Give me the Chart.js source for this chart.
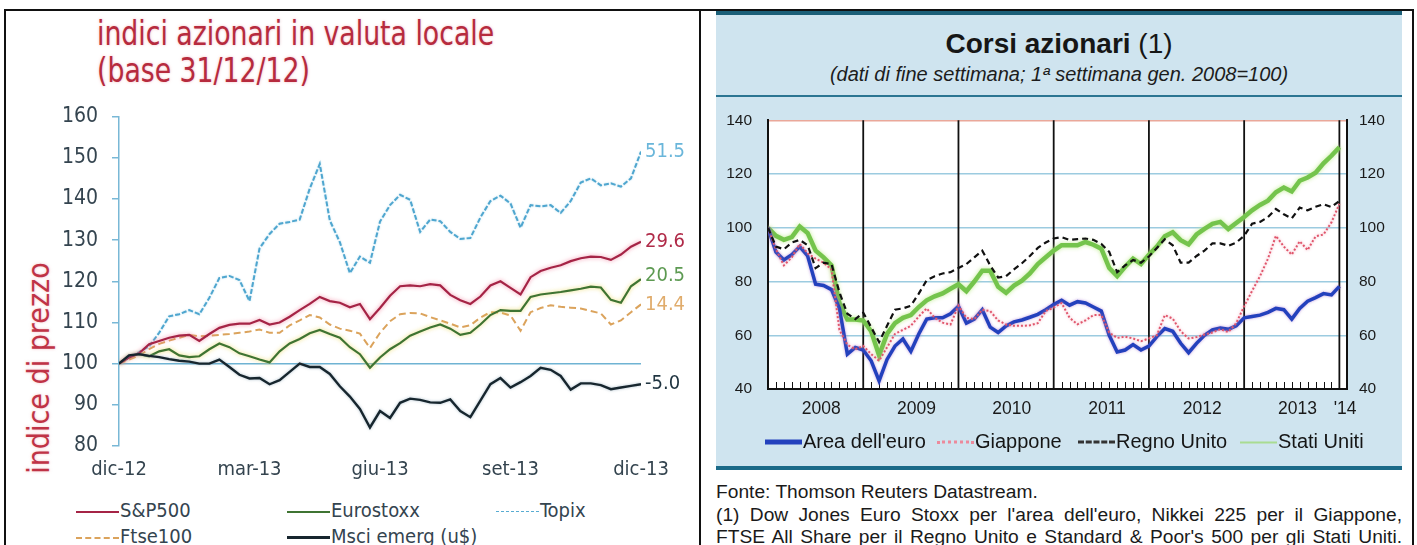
<!DOCTYPE html>
<html>
<head>
<meta charset="utf-8">
<script src="https://cdn.jsdelivr.net/npm/chart.js@4.4.1/dist/chart.umd.min.js"></script>
<style>
  html, body { margin: 0; padding: 0; background: #fff; }
  #page { position: relative; width: 1417px; height: 545px; overflow: hidden; background: #fff; }
  .abs { position: absolute; }
  .rule { position: absolute; background: #111; }
  .narrow { font-family: "Liberation Sans Narrow", "DejaVu Sans Condensed", "Roboto Condensed", "Open Sans", sans-serif; }
  .arial { font-family: "Liberation Sans", Arial, sans-serif; }
  #lTitle { left: 97px; top: 15px; color: #b62b3e; font-size: 33px; line-height: 37px; white-space: nowrap;
            transform: scaleX(0.9); transform-origin: 0 0;
            text-shadow: 0 0 3px rgba(235, 130, 140, .55); }
  #lYTitle { left: 38px; top: 368px; color: #bf3346; font-size: 30px; white-space: nowrap;
             transform: translate(-50%, -50%) rotate(-90deg); text-shadow: 0 0 3px rgba(235, 130, 140, .5); }
  .lleg { position: absolute; font-size: 20px; color: #34444f; white-space: nowrap; transform: translateY(-50%); }
  .sw { display: inline-block; width: 43px; height: 0; vertical-align: middle; margin-right: 1px; }
  #rBg { left: 716px; top: 15px; width: 686px; height: 453px; background: #cfe4ef; }
  #rTop { left: 716px; top: 11px; width: 686px; height: 4px; background: #1b5f78; }
  #rMid { left: 716px; top: 95px; width: 686px; height: 2px; background: #2b7592; }
  #rBot { left: 716px; top: 466px; width: 686px; height: 4px; background: #1b6a88; }
  #rTitle { left: 716px; width: 686px; top: 28px; text-align: center; font-size: 28px; color: #161616; }
  #rSub { left: 716px; width: 686px; top: 63px; text-align: center; font-size: 20px; font-style: italic; color: #1c1c1c; }
  .rleg { position: absolute; top: 441px; font-size: 20px; color: #151515; white-space: nowrap; transform: translateY(-50%); }
  .rsw { display: inline-block; width: 37px; height: 0; vertical-align: middle; margin-right: 1px; }
  .note { position: absolute; left: 716px; width: 686px; font-size: 19.2px; line-height: 22px; color: #1a1a1a; white-space: nowrap; }
  .just { text-align: justify; text-align-last: justify; }
</style>
</head>
<body>
<div id="page">
  <!-- frame -->
  <div class="rule" style="left:4px;top:9px;width:1410px;height:2px"></div>
  <div class="rule" style="left:4px;top:9px;width:2px;height:536px"></div>
  <div class="rule" style="left:699px;top:9px;width:2px;height:536px"></div>
  <div class="rule" style="left:1412px;top:9px;width:2px;height:536px"></div>

  <!-- left panel -->
  <div id="lTitle" class="abs narrow">indici azionari in valuta locale<br>(base 31/12/12)</div>
  <div id="lYTitle" class="abs narrow">indice di prezzo</div>
  <div class="abs" style="left:0;top:90px;width:700px;height:400px"><canvas id="left" width="700" height="400"></canvas></div>
  <div id="lLegend"></div>

  <!-- right panel -->
  <div id="rBg" class="abs"></div>
  <div id="rTop" class="abs"></div>
  <div id="rMid" class="abs"></div>
  <div id="rBot" class="abs"></div>
  <div id="rTitle" class="abs arial"><b>Corsi azionari</b> (1)</div>
  <div id="rSub" class="abs arial">(dati di fine settimana; 1ª settimana gen. 2008=100)</div>
  <div class="abs" style="left:700px;top:95px;width:717px;height:335px"><canvas id="right" width="717" height="335"></canvas></div>
  <div id="rLegend"></div>
  <div class="note arial" style="top:481px">Fonte: Thomson Reuters Datastream.</div>
  <div class="note arial just" style="top:504px">(1) Dow Jones Euro Stoxx per l'area dell'euro, Nikkei 225 per il Giappone,</div>
  <div class="note arial just" style="top:526px">FTSE All Share per il Regno Unito e Standard &amp; Poor's 500 per gli Stati Uniti.</div>
</div>

<script>
// ---- Left chart: weekly index levels, 31/12/12 = 100 ----
const leftTickLabels = ['dic-12', 'mar-13', 'giu-13', 'set-13', 'dic-13'];
const topix = [100,101.5,102.8,104.2,107.5,111.5,112,113,112,116,120.8,121.3,120.3,115.2,128,131.5,134,134.4,135,142.5,
  148.5,134.8,129.5,122,126,124.5,134.5,138.5,141,139.8,132,135,134.6,132,130.3,130.5,135.5,139.5,140.8,138.9,
  133,138.5,138.2,138.5,136.6,139.5,144,145,143.3,143.8,143,145,151.5];
const sp500 = [100,101.5,102.5,104.7,105.5,106.3,106.8,107,105.5,107.2,108.7,109.4,109.7,109.7,110.6,109.5,110,111.4,113,114.5,
  116.2,115.2,114.8,113.7,114.5,110.8,113.5,116.5,118.8,119,118.8,119.3,119,116.7,115.4,114.5,116.3,119,120,118.4,
  116.8,121,122.5,123.3,123.9,124.9,125.6,126,125.9,125.2,126.5,128.4,129.6];
const eurostoxx = [100,101.8,102.3,101.8,103,103.5,102,101.6,101.8,103.5,104.9,104,102.5,101.8,101,100.3,103,104.9,106,107.4,
  108.2,107.2,106.3,104,102.3,99,101.5,103.5,105,106.8,107.8,108.8,109.5,108.5,107,107.5,109.5,111.8,113,112.8,
  112.8,116.2,116.8,117.1,117.4,117.8,118.2,118.7,118.5,115.5,114.8,118.8,120.5];
const ftse100 = [100,101,102,103.5,104.8,105.6,106.3,107,106.6,106.8,107,107.2,107.5,107.8,108.3,107.5,107.5,109.3,110.5,111.8,
  111.2,109.5,108.5,108,107.3,103.8,107.5,110.3,112,112.3,112.2,111.3,110.5,109.7,108.8,109.3,111.2,112.5,112.4,111.7,
  108,112.5,113.5,114.2,113.8,113.6,113.4,112.8,112.2,109.5,110.5,112.5,114.4];
const msciEmerg = [100,102,102.3,101.9,101.6,101.1,100.7,100.5,100,100,101,99.2,97.3,96.4,96.5,95,96,98,100,99.2,
  99.2,97.5,94.5,92,89,84.5,88.5,86.8,90.5,91.5,91.2,90.6,90.5,91.3,88.5,87,91,95,96.5,94.2,
  95.5,97,99,98.5,97,93.7,95.2,95.2,94.8,93.8,94.2,94.6,95];

// ---- Right chart: month-end levels, 1st week Jan 2008 = 100 ----
const yearTickLabels = ['2008', '2009', '2010', '2011', '2012', '2013', "'14"];
const areaEuro = [100,91,88,90,93,89.5,79,78.5,77,70,53,55.5,54.5,50.5,43,51,56,58.6,54,60.5,
  66,66.5,66.5,68,70.8,64.5,66,69.5,63,61,63.5,65,65.7,66.7,67.8,69.5,71.4,73,71.2,72.5,
  72,70.5,69,60,53.8,54.5,56.5,54.5,56,59.5,62.5,61.5,57,53.5,57,60,62,62.7,62.2,63.5,
  66.5,67,67.5,68.5,70,69.5,66,70,72.7,74,75.5,75,78.2];
const giappone = [100,92,86,89,94,90.5,88.5,87,84.5,62,56.5,54.8,56,53,50.5,55.5,60.5,62,63.5,67,
  70,66.5,64.7,64,71,66.5,66,69.5,69,65.5,64,63.5,63.5,63.7,64.5,69,70.3,72,66.5,64.1,
  65.5,67.5,67.5,61,59,59.5,58.8,57.8,58.8,60,67.5,66.2,61.5,58.8,59.3,60.3,61,62.2,61.2,64.5,
  70.8,76.5,82,88.5,97,93,90,95,91.7,96.8,97.5,102,108.9];
const regnoUnito = [100,93,92,94.5,95.5,93.5,85,87,86.5,76,68,66,68.4,63,57.5,63.5,69.5,70,71,75.5,
  80.5,82,83,83.5,85,86.5,89,91.5,86,81.5,82,84.5,86.8,89.5,92.5,94.5,96,96.5,95.5,95.8,
  96,95.5,94,91,83.5,86,88,87,89.3,92.5,95.7,93.5,87,87,89.5,91.5,94.2,94.2,93.3,94.5,
  97,101.5,102.2,104,107,105,103.5,107.5,106.5,107.8,108.8,107.7,110];
const statiUniti = [100,97,95.5,96.5,100.5,98,91.5,89,86,72,65.9,65.9,65.5,61.5,52.5,60.5,64.5,66.5,67.5,70.5,
  73,74.5,75.6,77.3,79,76.4,80,84,84,78,75.8,78.5,80.3,83,86.5,89,91.5,93.5,93.5,93.5,
  94.7,93.7,92.2,85,82,85.5,88.5,86.5,90,93,96.8,98.3,95.4,93.8,97.5,99.6,101.5,102.2,99.5,101.8,
  104,106.5,108.5,110.1,113.2,115,113.5,117.5,118.7,120.5,124,126.8,130];

const NARROW = '"Liberation Sans Narrow", "DejaVu Sans Condensed", "Roboto Condensed", "Open Sans", sans-serif';
const ARIAL = '"Liberation Sans", Arial, sans-serif';

const weekly = arr => arr.map((v, i) => ({ x: i, y: v }));
const monthly = arr => arr.map((v, m) => ({ x: 2008 + m / 12, y: v }));

// soft halo behind selected lines
const glowPlugin = {
  id: 'glow',
  beforeDatasetDraw(chart, args) {
    const ds = chart.data.datasets[args.index];
    if (ds.glowColor) {
      chart.ctx.save();
      chart.ctx.shadowColor = ds.glowColor;
      chart.ctx.shadowBlur = ds.glowBlur || 4;
    }
  },
  afterDatasetDraw(chart, args) {
    if (chart.data.datasets[args.index].glowColor) chart.ctx.restore();
  }
};

// change since base, written at the end of each line
const endLabelPlugin = {
  id: 'endLabels',
  afterDatasetsDraw(chart) {
    const ctx = chart.ctx;
    chart.data.datasets.forEach((ds, i) => {
      if (!ds.endLabel) return;
      const meta = chart.getDatasetMeta(i);
      const pt = meta.data[meta.data.length - 1];
      const last = ds.data[ds.data.length - 1].y;
      ctx.save();
      ctx.font = '20px ' + NARROW;
      ctx.fillStyle = ds.labelColor;
      ctx.textAlign = 'left';
      ctx.textBaseline = 'middle';
      ctx.fillText((last - 100).toFixed(1), pt.x + 4, pt.y + (ds.labelDy || 0));
      ctx.restore();
    });
  }
};

new Chart(document.getElementById('left'), {
  type: 'line',
  data: {
    datasets: [
      { label: 'Msci emerg (u$)', data: weekly(msciEmerg), borderColor: '#17262e', borderWidth: 2.4,
        glowColor: 'rgba(120,150,170,.6)', glowBlur: 3, endLabel: true, labelColor: '#1f3440', order: 1 },
      { label: 'S&P500', data: weekly(sp500), borderColor: '#a52446', borderWidth: 2.2,
        glowColor: 'rgba(240,120,150,.8)', glowBlur: 4, endLabel: true, labelColor: '#b02a48', order: 2 },
      { label: 'Eurostoxx', data: weekly(eurostoxx), borderColor: '#3f7432', borderWidth: 2.2,
        glowColor: 'rgba(235,215,90,.85)', glowBlur: 4, endLabel: true, labelColor: '#5d9a52', labelDy: -3, order: 3 },
      { label: 'Ftse100', data: weekly(ftse100), borderColor: '#dba35c', borderWidth: 2, borderDash: [7, 4],
        endLabel: true, labelColor: '#e0ac6c', order: 4 },
      { label: 'Topix', data: weekly(topix), borderColor: '#4fa6cf', borderWidth: 2, borderDash: [5, 2],
        glowColor: 'rgba(150,205,230,.7)', glowBlur: 2, endLabel: true, labelColor: '#6ab6da', order: 5 },
      { label: 'base', data: [{ x: 0, y: 100 }, { x: sp500.length - 1, y: 100 }], borderColor: '#6fb3d3',
        borderWidth: 1.5, order: 6 }
    ]
  },
  options: {
    responsive: false,
    animation: false,
    events: [],
    layout: { padding: { left: 0, right: 59, top: 13, bottom: 0 } },
    elements: { point: { radius: 0 }, line: { tension: 0 } },
    plugins: { legend: { display: false }, tooltip: { enabled: false } },
    scales: {
      x: {
        type: 'linear', min: 0, max: sp500.length - 1,
        afterBuildTicks: s => { s.ticks = leftTickLabels.map((_, k) => ({ value: k * 13 })); },
        afterFit: s => { s.height = 44; },
        ticks: { callback: (v, k) => leftTickLabels[k], font: { family: NARROW, size: 20 }, color: '#34444f',
                 padding: 12, maxRotation: 0, autoSkip: false },
        grid: { display: false, drawTicks: false },
        border: { display: false }
      },
      y: {
        min: 80, max: 160,
        afterFit: s => { s.width = 119; },
        ticks: { stepSize: 10, font: { family: NARROW, size: 21 }, color: '#34444f', padding: 14 },
        grid: { drawOnChartArea: false, drawTicks: true, tickLength: 7, color: '#79b8d6', lineWidth: 1.5 },
        border: { display: true, color: '#79b8d6', width: 1.5 }
      }
    }
  },
  plugins: [glowPlugin, endLabelPlugin]
});

// white plot field, monthly ticks along the base and year separators
const fieldPlugin = {
  id: 'field',
  beforeDraw(chart) {
    const { ctx, chartArea: a } = chart;
    ctx.save();
    ctx.fillStyle = '#fff';
    ctx.fillRect(a.left, a.top, a.right - a.left, a.bottom - a.top);
    ctx.restore();
  },
  beforeDatasetsDraw(chart) {
    const { ctx, chartArea: a, scales: { x } } = chart;
    ctx.save();
    ctx.strokeStyle = '#111';
    ctx.lineWidth = 1;
    for (let m = 1; m < areaEuro.length; m++) {
      if (m % 12 === 0) continue;
      const px = Math.round(x.getPixelForValue(2008 + m / 12)) + 0.5;
      ctx.beginPath(); ctx.moveTo(px, a.bottom); ctx.lineTo(px, a.bottom - 7); ctx.stroke();
    }
    ctx.lineWidth = 1.8;
    for (let yr = 2009; yr <= 2014; yr++) {
      const px = x.getPixelForValue(yr);
      ctx.beginPath(); ctx.moveTo(px, a.top); ctx.lineTo(px, a.bottom); ctx.stroke();
    }
    ctx.restore();
  }
};

const yOpts = (pos, width, pad) => ({
  position: pos, min: 40, max: 140,
  afterFit: s => { s.width = width; },
  ticks: { stepSize: 20, font: { family: ARIAL, size: 15.5 }, color: '#1a1a1a', padding: pad },
  border: { display: true, color: '#111', width: 2 }
});

new Chart(document.getElementById('right'), {
  type: 'line',
  data: {
    datasets: [
      { label: 'Regno Unito', data: monthly(regnoUnito), borderColor: '#111', borderWidth: 2.2, borderDash: [6, 4], order: 0 },
      { label: 'Giappone', data: monthly(giappone), borderColor: '#e0566c', borderWidth: 2, borderDash: [2, 2],
        glowColor: 'rgba(240,150,170,.8)', glowBlur: 3, order: 1 },
      { label: "Area dell'euro", data: monthly(areaEuro), borderColor: '#2341bd', borderWidth: 3.5,
        glowColor: 'rgba(150,90,200,.6)', glowBlur: 3, order: 2 },
      { label: 'Stati Uniti', data: monthly(statiUniti), borderColor: '#74c44c', borderWidth: 4.5,
        glowColor: 'rgba(190,235,140,.9)', glowBlur: 4, order: 3 }
    ]
  },
  options: {
    responsive: false,
    animation: false,
    events: [],
    layout: { padding: { left: 0, right: 0, top: 22, bottom: 0 } },
    elements: { point: { radius: 0 }, line: { tension: 0 } },
    plugins: { legend: { display: false }, tooltip: { enabled: false } },
    scales: {
      x: {
        type: 'linear', min: 2008, max: 2014.08,
        afterBuildTicks: s => {
          s.ticks = yearTickLabels.map((_, k) => ({ value: k < 6 ? 2008 + k + 0.56 : 2014.06 }));
        },
        afterFit: s => { s.height = 41; },
        ticks: { callback: (v, k) => yearTickLabels[k], font: { family: ARIAL, size: 17.5 }, color: '#1a1a1a',
                 padding: 10, maxRotation: 0, autoSkip: false },
        grid: { display: false, drawTicks: false },
        border: { display: true, color: '#111', width: 2 }
      },
      y: Object.assign(yOpts('left', 68, 16), {
        grid: {
          drawTicks: false, lineWidth: 1.5,
          color: c => c.tick.value === 140 ? '#eaa89a' : (c.tick.value === 40 ? 'rgba(0,0,0,0)' : '#9ccbe0')
        }
      }),
      y2: Object.assign(yOpts('right', 70, 12), { grid: { display: false, drawTicks: false } })
    }
  },
  plugins: [fieldPlugin, glowPlugin]
});

// legends
const lLegend = [
  { t: 'S&P500', x: 76, y: 510, s: '2.5px solid #a52446' },
  { t: 'Eurostoxx', x: 287, y: 510, s: '2.5px solid #3f7432' },
  { t: 'Topix', x: 496, y: 510, s: '1.5px dashed #58acd2' },
  { t: 'Ftse100', x: 76, y: 536, s: '2px dashed #dba35c' },
  { t: 'Msci emerg (u$)', x: 287, y: 536, s: '3px solid #17262e' }
];
document.getElementById('lLegend').innerHTML = lLegend.map(d =>
  `<div class="lleg narrow" style="left:${d.x}px;top:${d.y}px"><span class="sw" style="border-top:${d.s}"></span>${d.t.replace('&', '&amp;')}</div>`).join('');

const rLegend = [
  { t: "Area dell'euro", x: 765, s: '5px solid #2341bd' },
  { t: 'Giappone', x: 937, s: '3px dotted #ec8a9c' },
  { t: 'Regno Unito', x: 1078, s: '3px dashed #333' },
  { t: 'Stati Uniti', x: 1240, s: '2px solid #a9dc92' }
];
document.getElementById('rLegend').innerHTML = rLegend.map(d =>
  `<div class="rleg arial" style="left:${d.x}px"><span class="rsw" style="border-top:${d.s}"></span>${d.t}</div>`).join('');
</script>
</body>
</html>
